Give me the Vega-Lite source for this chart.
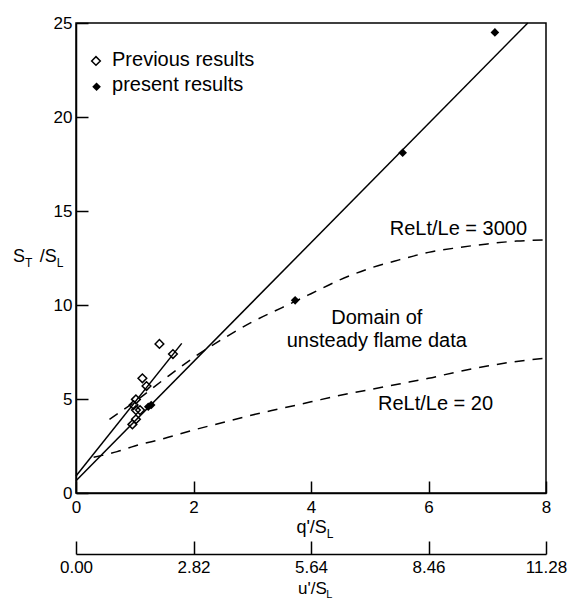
{
  "$schema": "https://vega.github.io/schema/vega-lite/v6.json",
  "width": 470,
  "height": 470,
  "autosize": {"type": "none"},
  "padding": {"left": 76, "top": 23, "right": 29, "bottom": 107},
  "background": "white",
  "config": {
    "view": {"stroke": "black", "strokeWidth": 1.5},
    "font": "Liberation Sans",
    "axis": {
      "grid": false,
      "domainColor": "black",
      "domainWidth": 1.5,
      "tickColor": "black",
      "tickWidth": 1.5,
      "labelColor": "black",
      "labelFont": "Liberation Sans",
      "labelFontSize": 17,
      "title": null
    },
    "text": {"font": "Liberation Sans", "color": "black"}
  },
  "resolve": {"scale": {"x": "independent"}},
  "layer": [
    {
      "layer": [
        {
          "data": {"values": [
            {"line": "long", "q": 0, "s": 0.65},
            {"line": "long", "q": 7.69, "s": 25},
            {"line": "short", "q": 0, "s": 0.9},
            {"line": "short", "q": 1.8, "s": 7.96}
          ]},
          "mark": {"type": "line", "color": "black", "strokeWidth": 1.5},
          "encoding": {
            "x": {"field": "q", "type": "quantitative", "scale": {"domain": [0, 8], "nice": false},
              "axis": {"orient": "bottom", "values": [0, 2, 4, 6, 8], "format": "d", "tickSize": -12, "labelPadding": 18, "labelFlush": false}},
            "y": {"field": "s", "type": "quantitative", "scale": {"domain": [0, 25], "nice": false},
              "axis": {"values": [0, 5, 10, 15, 20, 25], "format": "d", "tickSize": -12, "labelPadding": 16}},
            "detail": {"field": "line"}
          }
        },
        {
          "data": {"values": [
            {"curve": "3000", "q": 0.57, "s": 3.92},
            {"curve": "3000", "q": 1.0, "s": 4.85},
            {"curve": "3000", "q": 1.5, "s": 6.05},
            {"curve": "3000", "q": 2.0, "s": 7.2},
            {"curve": "3000", "q": 2.5, "s": 8.2},
            {"curve": "3000", "q": 3.0, "s": 9.1},
            {"curve": "3000", "q": 3.5, "s": 9.85},
            {"curve": "3000", "q": 4.0, "s": 10.6},
            {"curve": "3000", "q": 4.5, "s": 11.35},
            {"curve": "3000", "q": 5.0, "s": 11.95},
            {"curve": "3000", "q": 5.5, "s": 12.4},
            {"curve": "3000", "q": 6.0, "s": 12.8},
            {"curve": "3000", "q": 6.5, "s": 13.05},
            {"curve": "3000", "q": 7.0, "s": 13.25},
            {"curve": "3000", "q": 7.5, "s": 13.4},
            {"curve": "3000", "q": 8.0, "s": 13.46},
            {"curve": "20", "q": 0.3, "s": 1.9},
            {"curve": "20", "q": 0.7, "s": 2.2},
            {"curve": "20", "q": 1.0, "s": 2.5},
            {"curve": "20", "q": 1.5, "s": 2.9},
            {"curve": "20", "q": 2.0, "s": 3.35},
            {"curve": "20", "q": 2.5, "s": 3.75},
            {"curve": "20", "q": 3.0, "s": 4.15},
            {"curve": "20", "q": 3.5, "s": 4.5},
            {"curve": "20", "q": 4.0, "s": 4.85},
            {"curve": "20", "q": 4.5, "s": 5.2},
            {"curve": "20", "q": 5.0, "s": 5.5},
            {"curve": "20", "q": 5.5, "s": 5.8},
            {"curve": "20", "q": 6.0, "s": 6.1},
            {"curve": "20", "q": 6.5, "s": 6.45},
            {"curve": "20", "q": 7.0, "s": 6.75},
            {"curve": "20", "q": 7.5, "s": 7.0},
            {"curve": "20", "q": 8.0, "s": 7.17}
          ]},
          "mark": {"type": "line", "color": "black", "strokeWidth": 1.5, "strokeDash": [10, 8], "interpolate": "monotone"},
          "encoding": {
            "x": {"field": "q", "type": "quantitative"},
            "y": {"field": "s", "type": "quantitative"},
            "detail": {"field": "curve"}
          }
        },
        {
          "data": {"values": [
            {"q": 1.42, "s": 7.93},
            {"q": 1.65, "s": 7.39},
            {"q": 1.13, "s": 6.1},
            {"q": 1.2, "s": 5.69},
            {"q": 1.02, "s": 4.98},
            {"q": 0.98, "s": 4.68},
            {"q": 1.02, "s": 4.41},
            {"q": 1.09, "s": 4.41},
            {"q": 1.02, "s": 3.92},
            {"q": 0.96, "s": 3.65},
            {"q": 0.34, "s": 22.98}
          ]},
          "mark": {"type": "point", "shape": "diamond", "size": 75, "filled": false, "color": "black", "strokeWidth": 1.5, "opacity": 1},
          "encoding": {
            "x": {"field": "q", "type": "quantitative"},
            "y": {"field": "s", "type": "quantitative"}
          }
        },
        {
          "data": {"values": [
            {"q": 1.23, "s": 4.59},
            {"q": 1.28, "s": 4.68},
            {"q": 3.73, "s": 10.25},
            {"q": 5.56, "s": 18.1},
            {"q": 7.13, "s": 24.5},
            {"q": 0.35, "s": 21.61}
          ]},
          "mark": {"type": "point", "shape": "diamond", "size": 75, "filled": true, "color": "black", "opacity": 1},
          "encoding": {
            "x": {"field": "q", "type": "quantitative"},
            "y": {"field": "s", "type": "quantitative"}
          }
        },
        {
          "data": {"values": [
            {"q": 0.613, "s": 22.73, "t": "Previous results"},
            {"q": 0.613, "s": 21.4, "t": "present results"},
            {"q": 5.34, "s": 13.72, "t": "ReLt/Le = 3000"},
            {"q": 5.14, "s": 4.41, "t": "ReLt/Le = 20"}
          ]},
          "mark": {"type": "text", "align": "left", "baseline": "alphabetic", "fontSize": 20},
          "encoding": {
            "x": {"field": "q", "type": "quantitative"},
            "y": {"field": "s", "type": "quantitative"},
            "text": {"field": "t"}
          }
        },
        {
          "data": {"values": [
            {"q": 5.12, "s": 8.99, "t": "Domain of"},
            {"q": 5.12, "s": 7.78, "t": "unsteady flame data"}
          ]},
          "mark": {"type": "text", "align": "center", "baseline": "alphabetic", "fontSize": 20},
          "encoding": {
            "x": {"field": "q", "type": "quantitative"},
            "y": {"field": "s", "type": "quantitative"},
            "text": {"field": "t"}
          }
        },
        {
          "data": {"values": [
            {"q": 4.27, "s": -2.13, "t": "q'/S"},
            {"q": -0.868, "s": 12.29, "t": "S"},
            {"q": -0.329, "s": 12.29, "t": "/S"}
          ]},
          "mark": {"type": "text", "align": "right", "baseline": "alphabetic", "fontSize": 18, "clip": false},
          "encoding": {
            "x": {"field": "q", "type": "quantitative"},
            "y": {"field": "s", "type": "quantitative"},
            "text": {"field": "t"}
          }
        },
        {
          "data": {"values": [
            {"q": 4.27, "s": -5.38, "t": "u'/S"}
          ]},
          "mark": {"type": "text", "align": "right", "baseline": "alphabetic", "fontSize": 17, "clip": false},
          "encoding": {
            "x": {"field": "q", "type": "quantitative"},
            "y": {"field": "s", "type": "quantitative"},
            "text": {"field": "t"}
          }
        },
        {
          "data": {"values": [
            {"q": 4.27, "s": -2.39, "t": "L"},
            {"q": -0.868, "s": 12.02, "t": "T"},
            {"q": -0.329, "s": 12.02, "t": "L"}
          ]},
          "mark": {"type": "text", "align": "left", "baseline": "alphabetic", "fontSize": 12, "clip": false},
          "encoding": {
            "x": {"field": "q", "type": "quantitative"},
            "y": {"field": "s", "type": "quantitative"},
            "text": {"field": "t"}
          }
        },
        {
          "data": {"values": [
            {"q": 4.26, "s": -5.6, "t": "L"}
          ]},
          "mark": {"type": "text", "align": "left", "baseline": "alphabetic", "fontSize": 11, "clip": false},
          "encoding": {
            "x": {"field": "q", "type": "quantitative"},
            "y": {"field": "s", "type": "quantitative"},
            "text": {"field": "t"}
          }
        }
      ]
    },
    {
      "data": {"values": [{"u": 0}, {"u": 11.28}]},
      "mark": {"type": "point", "opacity": 0},
      "encoding": {
        "x": {"field": "u", "type": "quantitative", "scale": {"domain": [0, 11.28], "nice": false, "zero": false},
          "axis": {"orient": "bottom", "offset": 61, "values": [0, 2.82, 5.64, 8.46, 11.28], "format": ".2f", "tickSize": -13, "labelPadding": 18, "labelFlush": false}}
      }
    }
  ]
}
